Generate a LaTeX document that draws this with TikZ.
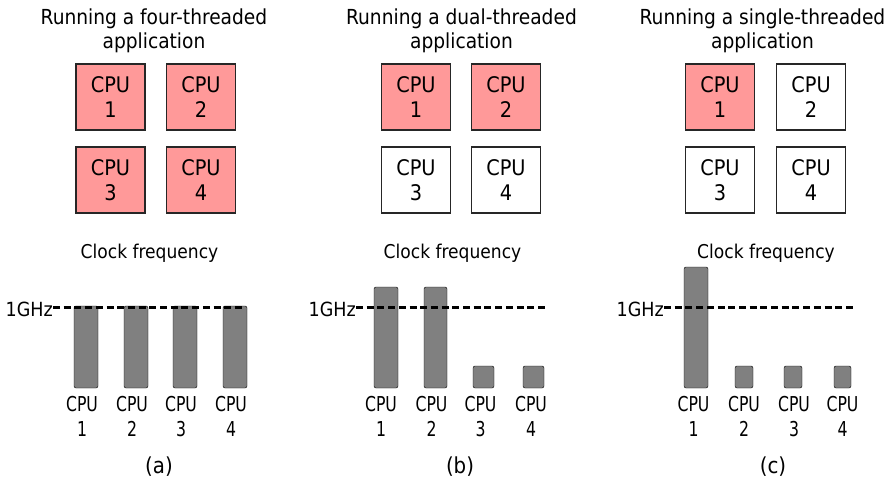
\documentclass[tikz,border=0pt]{standalone}
\usepackage{fontspec}
\setmainfont{DejaVu Sans Condensed}
\newfontfamily\narrowfont{DejaVu Sans Condensed}[FakeStretch=0.85]
\definecolor{busy}{RGB}{255,153,153}
\definecolor{bargray}{RGB}{128,128,128}
\begin{document}
\begin{tikzpicture}[x=1pt,y=-1pt,
  title/.style={align=center,font=\fontsize{20.7}{24}\selectfont,inner sep=0pt,anchor=north},
  core/.style={draw=black!85,line width=1.1pt,minimum width=69pt,minimum height=66pt,
    inner sep=0pt,align=center,font=\fontsize{21.5}{24.5}\selectfont},
  busycore/.style={core,fill=busy},
  idlecore/.style={core,fill=white},
  head/.style={font=\fontsize{19}{22}\selectfont,anchor=base,inner sep=0pt},
  ghz/.style={font=\fontsize{19.5}{22}\selectfont,anchor=base east,inner sep=0pt},
  bar/.style={fill=bargray,rounded corners=2pt},
  barlabel/.style={align=center,font=\narrowfont\fontsize{20.5}{25}\selectfont,inner sep=0pt,anchor=north},
  level/.style={line width=2.4pt,dash pattern=on 7pt off 3.7pt},
  caption/.style={font=\fontsize{22}{24}\selectfont,anchor=base,inner sep=0pt}]
\useasboundingbox[fill=white] (0,0) rectangle (890,486);

% ---------- (a) four threads ----------
\node[title] (tA) at (154,9) {Running a four-threaded\\application};
\node[busycore] (a1) at (110.5,97) {CPU\\1};
\node[busycore] (a2) at (201,97) {CPU\\2};
\node[busycore] (a3) at (110.5,180) {CPU\\3};
\node[busycore] (a4) at (201,180) {CPU\\4};
\node[head] (hA) at (149.5,258) {Clock frequency};
\draw[bar] (74,306) rectangle (98,388);
\draw[bar] (124,306) rectangle (148,388);
\draw[bar] (173,306) rectangle (197,388);
\draw[bar] (223,306) rectangle (247,388);
\node[ghz] (gA) at (53,316) {1GHz};
\coordinate (eA) at (243,307.5);
\draw[level] (gA.east |- eA) -- (eA);
\node[barlabel] (la1) at (82,396.5) {CPU\\1};
\node[barlabel] (la2) at (132,396.5) {CPU\\2};
\node[barlabel] (la3) at (181,396.5) {CPU\\3};
\node[barlabel] (la4) at (231,396.5) {CPU\\4};
\node[caption] (cA) at (159,473) {(a)};

% ---------- (b) two threads ----------
\node[title] (tB) at (461.5,9) {Running a dual-threaded\\application};
\node[busycore] (b1) at (416,97) {CPU\\1};
\node[busycore] (b2) at (506,97) {CPU\\2};
\node[idlecore] (b3) at (416,180) {CPU\\3};
\node[idlecore] (b4) at (506,180) {CPU\\4};
\node[head] (hB) at (452.5,258) {Clock frequency};
\draw[bar] (374,287) rectangle (398,388);
\draw[bar] (424,287) rectangle (447,388);
\draw[bar] (473,366) rectangle (494,388);
\draw[bar] (523,366) rectangle (544,388);
\node[ghz] (gB) at (356,316) {1GHz};
\coordinate (eB) at (546,307.5);
\draw[level] (gB.east |- eB) -- (eB);
\node[barlabel] (lb1) at (381,396.5) {CPU\\1};
\node[barlabel] (lb2) at (431.5,396.5) {CPU\\2};
\node[barlabel] (lb3) at (480.5,396.5) {CPU\\3};
\node[barlabel] (lb4) at (531,396.5) {CPU\\4};
\node[caption] (cB) at (460,473) {(b)};

% ---------- (c) one thread ----------
\node[title] (tC) at (762.5,9) {Running a single-threaded\\application};
\node[busycore] (c1) at (720,97) {CPU\\1};
\node[idlecore] (c2) at (811,97) {CPU\\2};
\node[idlecore] (c3) at (720,180) {CPU\\3};
\node[idlecore] (c4) at (811,180) {CPU\\4};
\node[head] (hC) at (766,258) {Clock frequency};
\draw[bar] (684,267) rectangle (708,388);
\draw[bar] (735,366) rectangle (753,388);
\draw[bar] (784,366) rectangle (802,388);
\draw[bar] (834,366) rectangle (851,388);
\node[ghz] (gC) at (664,316) {1GHz};
\coordinate (eC) at (853,307.5);
\draw[level] (gC.east |- eC) -- (eC);
\node[barlabel] (lc1) at (693.5,396.5) {CPU\\1};
\node[barlabel] (lc2) at (744,396.5) {CPU\\2};
\node[barlabel] (lc3) at (794,396.5) {CPU\\3};
\node[barlabel] (lc4) at (842.5,396.5) {CPU\\4};
\node[caption] (cC) at (773,473) {(c)};
\end{tikzpicture}
\end{document}
